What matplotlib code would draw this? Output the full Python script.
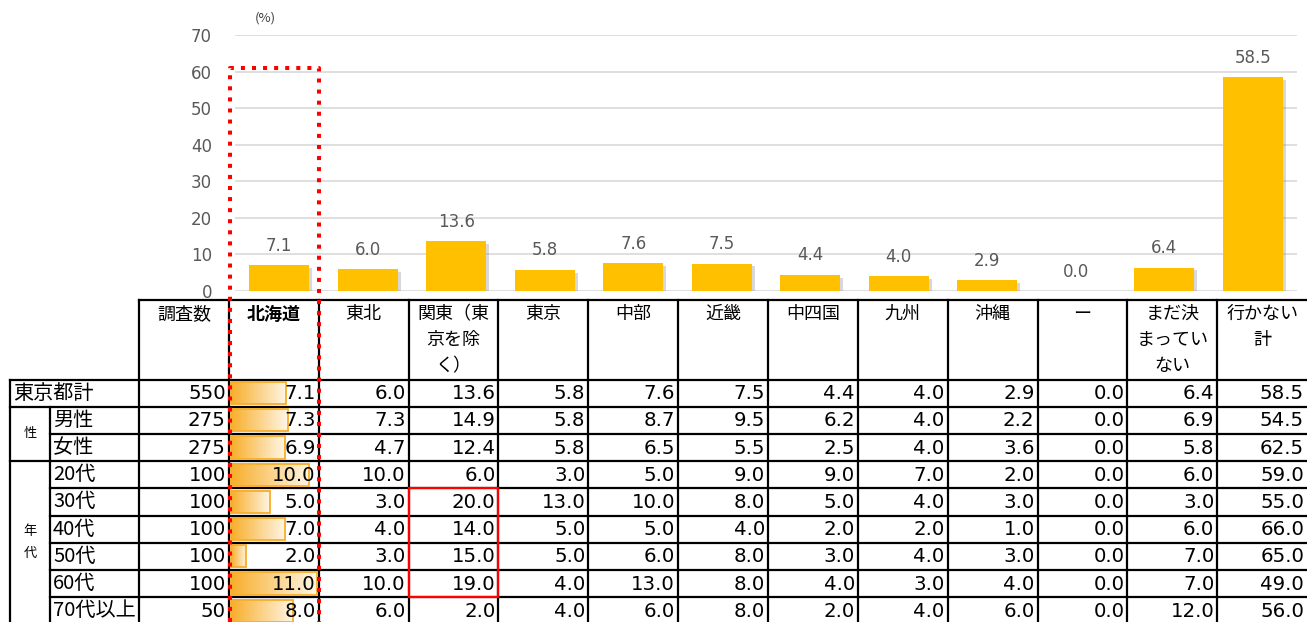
import matplotlib.pyplot as plt
import matplotlib.patheffects as pe
from matplotlib.colors import LinearSegmentedColormap
import numpy as np

plt.rcParams['font.family'] = ['Noto Sans CJK JP', 'DejaVu Sans']
NUMFONT = ['DejaVu Sans', 'Noto Sans CJK JP']

# データ
regions = ['北海道', '東北', '関東（東京を除く）', '東京', '中部', '近畿', '中四国',
           '九州', '沖縄', 'ー', 'まだ決まっていない', '行かない計']
headers = ['調査数', '北海道', '東北', '関東（東\n京を除\nく）', '東京', '中部', '近畿',
           '中四国', '九州', '沖縄', 'ー', 'まだ決\nまってい\nない', '行かない\n計']
row_labels = ['東京都計', '男性', '女性', '20代', '30代', '40代', '50代', '60代', '70代以上']
counts = [550, 275, 275, 100, 100, 100, 100, 100, 50]
values = [
    [7.1, 6.0, 13.6, 5.8, 7.6, 7.5, 4.4, 4.0, 2.9, 0.0, 6.4, 58.5],
    [7.3, 7.3, 14.9, 5.8, 8.7, 9.5, 6.2, 4.0, 2.2, 0.0, 6.9, 54.5],
    [6.9, 4.7, 12.4, 5.8, 6.5, 5.5, 2.5, 4.0, 3.6, 0.0, 5.8, 62.5],
    [10.0, 10.0, 6.0, 3.0, 5.0, 9.0, 9.0, 7.0, 2.0, 0.0, 6.0, 59.0],
    [5.0, 3.0, 20.0, 13.0, 10.0, 8.0, 5.0, 4.0, 3.0, 0.0, 3.0, 55.0],
    [7.0, 4.0, 14.0, 5.0, 5.0, 4.0, 2.0, 2.0, 1.0, 0.0, 6.0, 66.0],
    [2.0, 3.0, 15.0, 5.0, 6.0, 8.0, 3.0, 4.0, 3.0, 0.0, 7.0, 65.0],
    [11.0, 10.0, 19.0, 4.0, 13.0, 8.0, 4.0, 3.0, 4.0, 0.0, 7.0, 49.0],
    [8.0, 6.0, 2.0, 4.0, 6.0, 8.0, 2.0, 4.0, 6.0, 0.0, 12.0, 56.0],
]
bar_values = values[0]

W, H = 1307, 622
fig = plt.figure(figsize=(W / 100, H / 100), dpi=100)

# 棒グラフ
ax = fig.add_axes([235 / W, 1 - 291 / H, 1062 / W, 256 / H])
x = np.arange(len(regions))
ax.bar(x, bar_values, width=0.68, color='#FFC000', zorder=3,
       path_effects=[pe.SimplePatchShadow(offset=(2, -2), shadow_rgbFace='#7f7f7f', alpha=0.3),
                     pe.Normal()])
for xi, v in zip(x, bar_values):
    ax.annotate(f'{v:.1f}', (xi, v), xytext=(0, 7.5), textcoords='offset points',
                ha='center', va='bottom', fontsize=12, color='#595959', family=NUMFONT)
ax.set_xlim(-0.5, len(regions) - 0.5)
ax.set_ylim(0, 70)
ax.set_yticks(range(0, 71, 10))
ax.yaxis.grid(True, color='#d9d9d9', lw=1.2, zorder=0)
ax.set_xticks([])
ax.tick_params(axis='y', length=0, labelsize=12, labelcolor='#595959', pad=16.5)
for lab in ax.get_yticklabels():
    lab.set_family(NUMFONT)
for s in ax.spines.values():
    s.set_visible(False)
ax.text(-0.16, 74.6, '(%)', fontsize=9.5, color='#404040', ha='center', va='center',
        clip_on=False)

# 表 (ピクセル座標)
tb = fig.add_axes([0, 0, 1, 1], facecolor='none')
tb.axis('off')

col_x0 = 139
col_w = 89.85
ncols = len(headers)
col_edges = [col_x0 + i * col_w for i in range(ncols + 1)]
head_top, head_bot = 299.5, 379.5
row_h = 27.2
row_edges = [head_bot + i * row_h for i in range(len(row_labels) + 1)]
lw = 1.6

# 罫線
tb.plot([col_x0, W], [head_top, head_top], color='black', lw=lw)
for i, ye in enumerate(row_edges[:-1]):
    xs = 10 if i in (0, 1, 3) else 50
    tb.plot([xs, W], [ye, ye], color='black', lw=lw)
for xe in col_edges[:-1]:
    tb.plot([xe, xe], [head_top, H], color='black', lw=lw)
tb.plot([10, 10], [head_bot, H], color='black', lw=lw)
tb.plot([50, 50], [row_edges[1], H], color='black', lw=lw)

# ヘッダー
for j, h in enumerate(headers):
    cx = (col_edges[j] + col_edges[j + 1]) / 2
    for k, line in enumerate(h.split('\n')):
        tb.text(cx, 314 + 26 * k, line, ha='center', va='center', fontsize=13,
                fontweight='bold' if j == 1 else 'normal', color='black')

# 行ラベル
for i, lab in enumerate(row_labels):
    cy = (row_edges[i] + row_edges[i + 1]) / 2
    tb.text(13 if i == 0 else 53, cy, lab, ha='left', va='center', fontsize=14.5)
tb.text(30, row_edges[2], '性', ha='center', va='center', fontsize=9.5)
tb.text(30, 532, '年', ha='center', va='center', fontsize=9.5)
tb.text(30, 553, '代', ha='center', va='center', fontsize=9.5)

# データバー (北海道列)
grad = np.linspace(0, 1, 256).reshape(1, -1)
cmap = LinearSegmentedColormap.from_list('db', ['#F8AE2A', '#FFF6E6'])
hk = [r[0] for r in values]
hmax = max(hk)
for i, v in enumerate(hk):
    x0 = col_edges[1] + 2
    x1 = x0 + v / hmax * (col_w - 4)
    y0 = row_edges[i] + 2.5
    y1 = row_edges[i + 1] - 2.5
    tb.imshow(grad, extent=[x0, x1, y1, y0], cmap=cmap, aspect='auto', zorder=1)
    tb.add_patch(plt.Rectangle((x0, y0), x1 - x0, y1 - y0, fill=False,
                               edgecolor='#F8AE2A', lw=1.3, zorder=2))

# 数値
for i in range(len(row_labels)):
    cy = (row_edges[i] + row_edges[i + 1]) / 2 + 0.5
    tb.text(col_edges[1] - 3, cy, str(counts[i]), ha='right', va='center', fontsize=14.2,
            family=NUMFONT, zorder=3)
    for j, v in enumerate(values[i]):
        tb.text(col_edges[j + 2] - 3, cy, f'{v:.1f}', ha='right', va='center', fontsize=14.2,
                family=NUMFONT, zorder=3)

# 強調枠
tb.plot([230, 230, 319, 319], [H, 68, 68, H], color='red', lw=2.9,
        linestyle=(0, (1, 1.75)), zorder=5)
tb.add_patch(plt.Rectangle((col_edges[3], row_edges[4]), col_w, row_h * 4, fill=False,
                           edgecolor='red', lw=1.6, zorder=5))

tb.set_xlim(0, W)
tb.set_ylim(H, 0)

fig.savefig('out.png', dpi=100)
